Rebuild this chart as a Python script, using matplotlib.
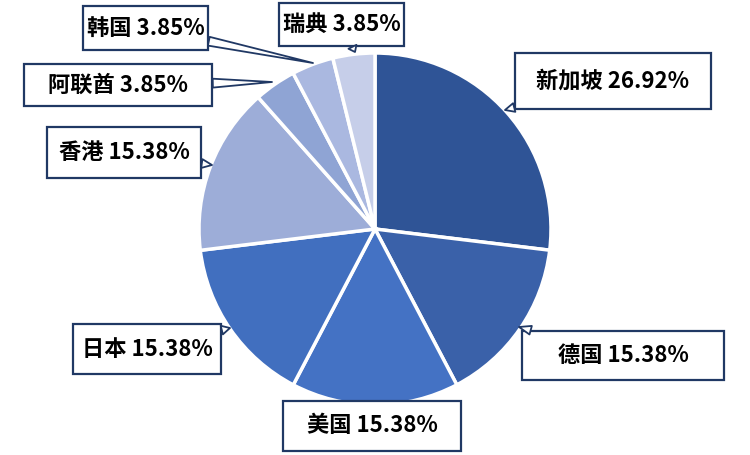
import matplotlib
matplotlib.use("Agg")
import matplotlib.pyplot as plt
from matplotlib.patches import Rectangle

plt.rcParams['font.family'] = ['Noto Sans CJK SC', 'DejaVu Sans']

# data, clockwise from 12 o'clock
countries = ['新加坡', '德国', '美国', '日本', '香港', '阿联酋', '韩国', '瑞典']
shares = [26.92, 15.38, 15.38, 15.38, 15.38, 3.85, 3.85, 3.85]
colors = ['#2F5496', '#3A61A9', '#4472C4', '#416FBF',
          '#9DADD8', '#8FA4D4', '#AAB8E0', '#C6CEE9']

# label boxes (left, top, right, bottom) and callout tips, pixel coords from top-left
boxes = [(515, 53, 711, 109), (522, 331, 724, 380), (283, 401, 461, 451),
         (73, 324, 221, 374), (47, 127, 201, 178), (24, 64, 212, 106),
         (83, 6, 208, 50), (279, 3, 404, 46)]
tips = [(505, 110), (519, 327), None, (230, 328),
        (212, 165), (272, 82), (313, 63), (355, 52)]

W, H = 750, 455
fig = plt.figure(figsize=(7.5, 4.55), dpi=100)
ax = fig.add_axes([0, 0, 1, 1])

ax.pie(shares, colors=colors, startangle=90, counterclock=False,
       center=(375, H - 229), radius=176, frame=True,
       wedgeprops=dict(edgecolor='white', linewidth=2.5))
ax.set_xlim(0, W)
ax.set_ylim(0, H)
ax.set_aspect('equal')
ax.axis('off')

navy = '#203864'
for name, val, (x0, y0, x1, y1), tip in zip(countries, shares, boxes, tips):
    rect = Rectangle((x0, H - y1), x1 - x0, y1 - y0, fc='white', ec=navy,
                     lw=1.6, zorder=4)
    ax.add_patch(rect)
    cx, cy = (x0 + x1) / 2, H - (y0 + y1) / 2
    label = f'{name} {val:.2f}%'
    if tip is None:
        ax.text(cx, cy, label, ha='center', va='center', fontsize=16,
                fontweight='bold', color='black', zorder=6)
        continue
    ax.annotate(label, xy=(tip[0], H - tip[1]), xytext=(cx, cy),
                ha='center', va='center', fontsize=16, fontweight='bold',
                color='black', zorder=6,
                arrowprops=dict(arrowstyle='wedge,tail_width=0.4,shrink_factor=0.5',
                                fc='white', ec=navy, lw=1.3, patchA=rect,
                                shrinkA=0, shrinkB=0, zorder=5))

fig.savefig('out.png', dpi=100)
